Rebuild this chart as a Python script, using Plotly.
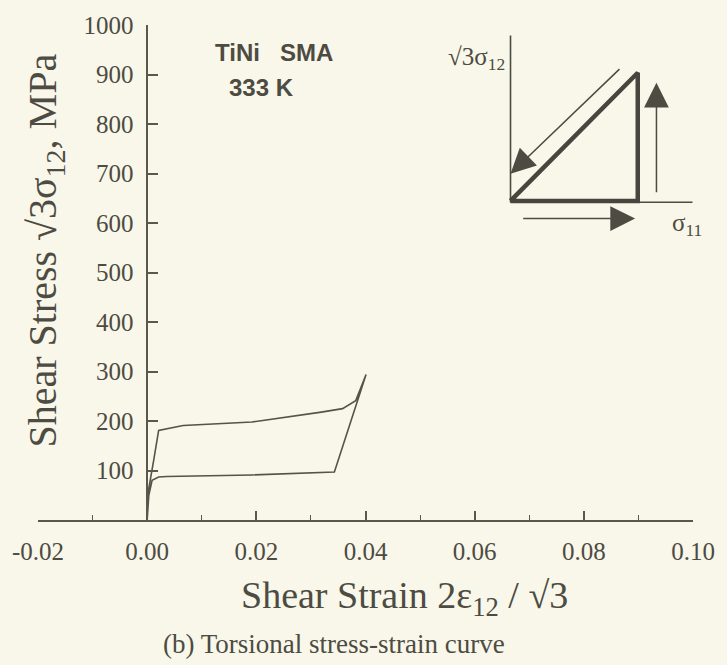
import plotly.graph_objects as go

# ---------------- data ----------------
strain = [0.0, 0.0003, 0.0012, 0.0021, 0.0066, 0.0192, 0.0319, 0.0358, 0.0382, 0.0401,
          0.0343, 0.0192, 0.0036, 0.0021, 0.0009, 0.0003, 0.0]
stress = [0, 64, 121, 181, 191, 198, 218, 225, 241, 294,
          97, 91, 88, 87, 80, 50, 0]

x_tickvals = [-0.02, 0.00, 0.02, 0.04, 0.06, 0.08, 0.10]
x_ticktext = ["-0.02", "0.00", "0.02", "0.04", "0.06", "0.08", "0.10"]
y_tickvals = [100, 200, 300, 400, 500, 600, 700, 800, 900, 1000]
y_ticktext = ["100", "200", "300", "400", "500", "600", "700", "800", "900", "1000"]

# inset schematic (loading path in sigma11 - sqrt3 sigma12 space, normalised units)
path_s11 = [0, 1, 1, 0]
path_s12 = [0, 1, 0, 0]
inset_vaxis_x = [0, 0]
inset_vaxis_y = [-0.01, 1.29]
inset_haxis_x = [0, 1.43]
inset_haxis_y = [-0.01, -0.01]
# arrows: (tail_x, tail_y, tip_x, tip_y)
arrow_diag = (0.868, 1.039, 0.0, 0.212)
arrow_up = (1.147, 0.057, 1.147, 0.922)
arrow_right = (0.088, -0.137, 0.979, -0.137)

INK = "#4d4b42"
BG = "#f8f7ea"
SERIF = "Liberation Serif, Times New Roman, serif"
SANS = "Liberation Sans, Arial, sans-serif"

fig = go.Figure()

fig.add_trace(go.Scatter(x=strain, y=stress, mode="lines",
                         line=dict(color="#55534a", width=1.6),
                         xaxis="x", yaxis="y", showlegend=False, hoverinfo="skip"))

# inset
fig.add_trace(go.Scatter(x=inset_vaxis_x, y=inset_vaxis_y, mode="lines",
                         line=dict(color=INK, width=1.6), xaxis="x2", yaxis="y2",
                         showlegend=False, hoverinfo="skip"))
fig.add_trace(go.Scatter(x=inset_haxis_x, y=inset_haxis_y, mode="lines",
                         line=dict(color=INK, width=1.6), xaxis="x2", yaxis="y2",
                         showlegend=False, hoverinfo="skip"))
fig.add_trace(go.Scatter(x=path_s11, y=path_s12, mode="lines",
                         line=dict(color="#47453d", width=4.5), xaxis="x2", yaxis="y2",
                         showlegend=False, hoverinfo="skip"))

annotations = []
for (tx, ty, hx, hy) in (arrow_diag, arrow_up, arrow_right):
    annotations.append(dict(x=hx, y=hy, ax=tx, ay=ty, xref="x2", yref="y2",
                            axref="x2", ayref="y2", text="", showarrow=True,
                            arrowhead=2, arrowsize=3.3, arrowwidth=1.5,
                            arrowcolor=INK, standoff=0, startstandoff=0))

annotations += [
    dict(text="√3σ<sub>12</sub>", x=-0.03, y=1.11, xref="x2", yref="y2",
         xanchor="right", yanchor="middle", showarrow=False,
         font=dict(family=SERIF, size=25, color=INK)),
    dict(text="σ<sub>11</sub>", x=1.25, y=-0.18, xref="x2", yref="y2",
         xanchor="left", yanchor="middle", showarrow=False,
         font=dict(family=SERIF, size=25, color=INK)),
    dict(text="<b>TiNi\u00a0\u00a0\u00a0SMA</b>", x=(210 - 33) / 664, y=(520 - 50) / 498,
         xref="paper", yref="paper", xanchor="left", yanchor="middle", showarrow=False,
         font=dict(family=SANS, size=24, color=INK)),
    dict(text="<b>333 K</b>", x=(225 - 33) / 664, y=(520 - 85) / 498,
         xref="paper", yref="paper", xanchor="left", yanchor="middle", showarrow=False,
         font=dict(family=SANS, size=24, color=INK)),
    dict(text="Shear Strain 2ε<sub>12</sub> / √3", x=(405 - 33) / 664, y=(520 - 598) / 498,
         xref="paper", yref="paper", xanchor="center", yanchor="middle", showarrow=False,
         font=dict(family=SERIF, size=38, color=INK)),
    dict(text="Shear Stress √3σ<sub>12</sub>, MPa", x=(40 - 33) / 664, y=(520 - 249) / 498,
         xref="paper", yref="paper", xanchor="center", yanchor="middle", showarrow=False,
         textangle=-90, font=dict(family=SERIF, size=40, color=INK)),
    dict(text="(b) Torsional stress-strain curve", x=(333 - 33) / 664, y=(520 - 645) / 498,
         xref="paper", yref="paper", xanchor="center", yanchor="middle", showarrow=False,
         font=dict(family=SERIF, size=27, color=INK)),
]

# inset geometry (pixels -> domain)
ox, oy, unit = 512, 199, 129
x2_px = (500, 697)
y2_px = (240, 22)

fig.update_layout(
    width=727, height=665,
    margin=dict(l=33, r=30, t=22, b=145),
    paper_bgcolor=BG, plot_bgcolor=BG,
    showlegend=False,
    annotations=annotations,
    xaxis=dict(range=[-0.02, 0.10], domain=[0, 1], showgrid=False, zeroline=False,
               showline=True, linecolor="#5a584e", linewidth=1.5,
               ticks="inside", ticklen=9, tickwidth=1.5, tickcolor="#5a584e",
               tickvals=x_tickvals, ticktext=x_ticktext,
               minor=dict(ticks="inside", ticklen=5, tickwidth=1.3, tickcolor="#5a584e",
                          dtick=0.01, tick0=0, showgrid=False),
               tickfont=dict(family=SERIF, size=25, color=INK),
               ticklabelstandoff=8, fixedrange=True),
    yaxis=dict(range=[0, 1000], domain=[0, 1], anchor="free", position=1 / 6,
               showgrid=False, zeroline=False,
               showline=True, linecolor="#5a584e", linewidth=1.5,
               ticks="inside", ticklen=10, tickwidth=1.5, tickcolor="#5a584e",
               tickvals=y_tickvals, ticktext=y_ticktext,
               tickfont=dict(family=SERIF, size=25, color=INK),
               ticklabelstandoff=8, fixedrange=True),
    xaxis2=dict(domain=[(x2_px[0] - 33) / 664, (x2_px[1] - 33) / 664],
                range=[(x2_px[0] - ox) / unit, (x2_px[1] - ox) / unit],
                anchor="y2", visible=False, fixedrange=True),
    yaxis2=dict(domain=[(520 - y2_px[0]) / 498, (520 - y2_px[1]) / 498],
                range=[(oy - y2_px[0]) / unit, (oy - y2_px[1]) / unit],
                anchor="x2", visible=False, fixedrange=True),
)

fig.write_html("out.html")
